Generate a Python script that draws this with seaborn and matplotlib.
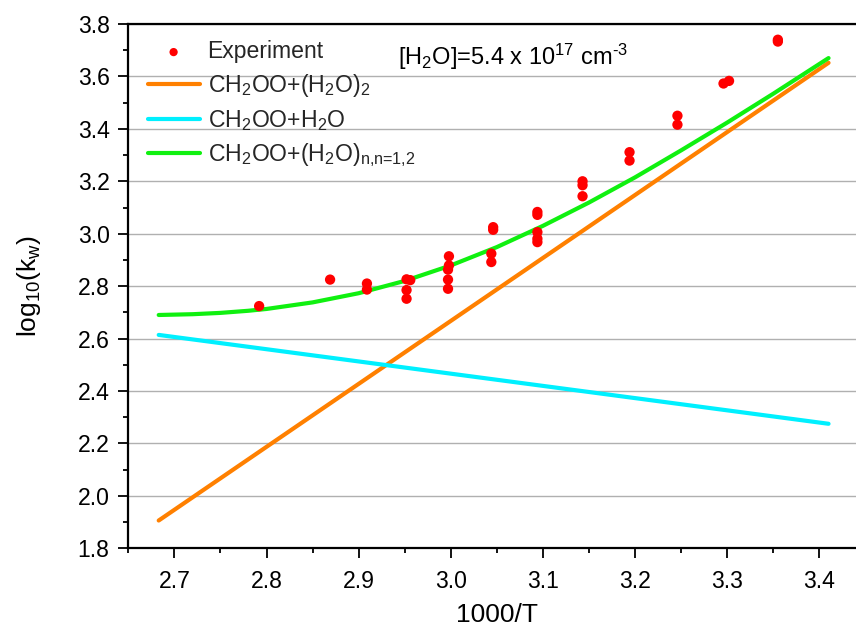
import numpy as np
import pandas as pd
import matplotlib
matplotlib.use("Agg")
import matplotlib.pyplot as plt
from matplotlib.ticker import MultipleLocator, FormatStrFormatter
import seaborn as sns

# ---- data ----
exp_x = [2.792, 2.869, 2.909, 2.909, 2.952, 2.956, 2.952, 2.952,
         2.998, 2.998, 2.997, 2.997, 2.997,
         3.046, 3.046, 3.044, 3.044,
         3.094, 3.094, 3.094, 3.094, 3.094,
         3.143, 3.143, 3.143, 3.194, 3.194, 3.246, 3.246,
         3.296, 3.302, 3.355, 3.355]
exp_y = [2.724, 2.825, 2.810, 2.787, 2.826, 2.823, 2.785, 2.752,
         2.914, 2.879, 2.863, 2.825, 2.790,
         3.025, 3.015, 2.924, 2.892,
         3.083, 3.072, 3.006, 2.981, 2.968,
         3.200, 3.185, 3.143, 3.311, 3.279, 3.450, 3.416,
         3.573, 3.583, 3.740, 3.733]

dimer_x = [2.683, 3.410]
dimer_y = [1.906, 3.652]

mono_x = [2.683, 3.410]
mono_y = [2.614, 2.275]

total_x = [2.683, 2.72, 2.75, 2.78, 2.80, 2.85, 2.90, 2.95, 3.00, 3.05, 3.10,
           3.15, 3.20, 3.25, 3.30, 3.35, 3.410]
total_y = [2.690, 2.693, 2.698, 2.706, 2.713, 2.738, 2.773, 2.820, 2.879, 2.949, 3.030,
           3.119, 3.215, 3.318, 3.424, 3.534, 3.670]

labels = ["Experiment",
          r"CH$_2$OO+(H$_2$O)$_2$",
          r"CH$_2$OO+H$_2$O",
          r"CH$_2$OO+(H$_2$O)$_{\text{n,n=1,2}}$"]
colors = ["#FF0000", "#FF8000", "#00F0FF", "#10F010"]

# ---- style ----
sns.set_theme(style="white")
plt.rcParams["font.family"] = ["Liberation Sans", "DejaVu Sans"]
plt.rcParams["mathtext.fontset"] = "custom"
plt.rcParams["mathtext.rm"] = "Liberation Sans"
plt.rcParams["mathtext.it"] = "Liberation Sans"
plt.rcParams["mathtext.bf"] = "Liberation Sans:bold"
plt.rcParams["mathtext.default"] = "rm"

FS = 16.6

fig = plt.figure(figsize=(8.56, 6.30), dpi=100)
ax = fig.add_axes([128.3 / 856, 1 - 548.3 / 630, (865.4 - 128.3) / 856, (548.3 - 24) / 630])

df_exp = pd.DataFrame({"x": exp_x, "y": exp_y})
df_dim = pd.DataFrame({"x": dimer_x, "y": dimer_y})
df_mon = pd.DataFrame({"x": mono_x, "y": mono_y})
df_tot = pd.DataFrame({"x": total_x, "y": total_y})

lw = 3.0
sns.lineplot(data=df_dim, x="x", y="y", ax=ax, color=colors[1], lw=lw,
             sort=False, estimator=None, label=labels[1], zorder=3)
sns.lineplot(data=df_mon, x="x", y="y", ax=ax, color=colors[2], lw=lw,
             sort=False, estimator=None, label=labels[2], zorder=3)
sns.lineplot(data=df_tot, x="x", y="y", ax=ax, color=colors[3], lw=lw,
             sort=False, estimator=None, label=labels[3], zorder=3)
sns.scatterplot(data=df_exp, x="x", y="y", ax=ax, color=colors[0], s=55,
                edgecolor="none", linewidth=0, label=labels[0], zorder=4)

ax.set_xlim(2.65, 3.45)
ax.set_ylim(1.8, 3.8)
ax.xaxis.set_major_locator(MultipleLocator(0.1))
ax.xaxis.set_minor_locator(MultipleLocator(0.05))
ax.yaxis.set_major_locator(MultipleLocator(0.2))
ax.yaxis.set_minor_locator(MultipleLocator(0.1))
ax.xaxis.set_major_formatter(FormatStrFormatter("%.1f"))
ax.yaxis.set_major_formatter(FormatStrFormatter("%.1f"))

ax.yaxis.grid(True, which="major", color="#b0b0b0", lw=1.0)
ax.xaxis.grid(False)
ax.set_axisbelow(True)

for side in ["left", "bottom", "top"]:
    ax.spines[side].set_visible(True)
    ax.spines[side].set_color("black")
    ax.spines[side].set_linewidth(1.6)
ax.spines["right"].set_visible(False)

ax.tick_params(axis="both", which="major", direction="out", length=7.5, width=1.3,
               labelsize=FS, colors="black", pad=6)
ax.tick_params(axis="both", which="minor", direction="out", length=3.8, width=1.3,
               colors="black")
ax.tick_params(axis="x", which="major", pad=8)
ax.tick_params(bottom=True, left=True, which="both", top=False, right=False)

ax.set_xlabel("1000/T", fontsize=19, labelpad=7, color="black")
ax.set_ylabel(r"log$_{10}$(k$_w$)", fontsize=19, labelpad=25, color="black")

handles, labs = ax.get_legend_handles_labels()
order = [labs.index(l) for l in labels]
leg = ax.legend([handles[i] for i in order], [labs[i] for i in order],
                loc="upper left", bbox_to_anchor=(0.02, 0.978), frameon=False,
                fontsize=FS, handlelength=2.25, handletextpad=0.35,
                labelspacing=0.38, borderaxespad=0, borderpad=0.2,
                markerscale=0.8)

fig.text(398 / 856, 1 - 65 / 630, r"[H$_2$O]=5.4 x 10$^{17}$ cm$^{\text{-3}}$",
         fontsize=17, ha="left", va="baseline", color="black")

fig.savefig("out.png", dpi=100)
